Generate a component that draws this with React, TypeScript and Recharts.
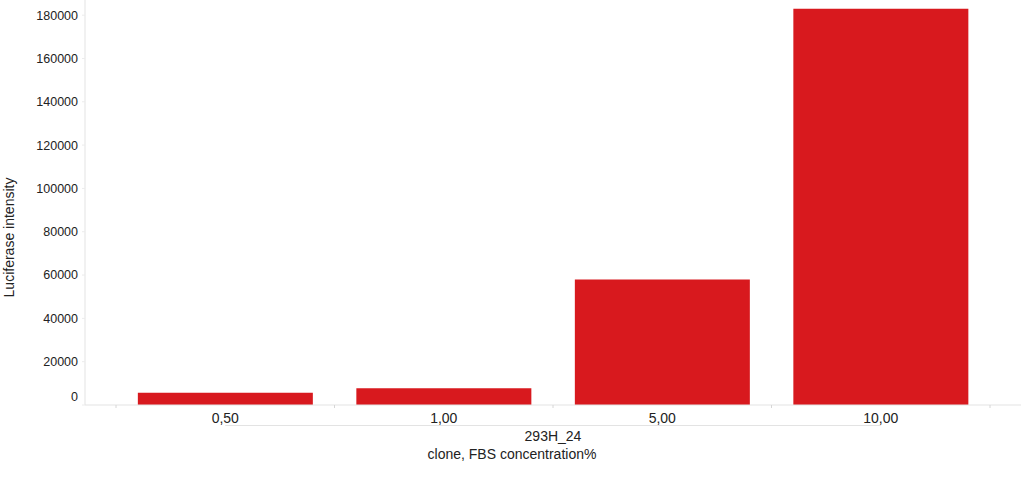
import React from "react";
import { BarChart, Bar, XAxis, YAxis, Label } from "recharts";

// FBS concentration (%) per well, clone 293H_24
const concentrations = ["0,50", "1,00", "5,00", "10,00"];
const luciferase = [5700, 7700, 58000, 183000];
const yTicks = [0, 20000, 40000, 60000, 80000, 100000, 120000, 140000, 160000, 180000];
const cloneName = "293H_24";
const xTitle = "clone, FBS concentration%";
const yTitle = "Luciferase intensity";

const data = concentrations.map((c, i) => ({ conc: c, value: luciferase[i] }));

const FONT = "'Liberation Sans', Arial, sans-serif";
const AXIS_GRAY = "#e3e3e3";
const X_PAD = 31;

const YTick = (props: any) => {
  const { x, y, payload } = props;
  // the zero label sits a bit above the baseline in the original
  const shift = payload.value === 0 ? -8 : 0;
  return (
    <text x={x} y={y + shift} dy="0.355em" textAnchor="end" fontSize={12.5} fill="#222" fontFamily={FONT}>
      {payload.value}
    </text>
  );
};

const CatTick = (props: any) => {
  const { x, y, payload } = props;
  return (
    <text x={x} y={y} dy={16} textAnchor="middle" fontSize={14} fill="#222" fontFamily={FONT}>
      {payload.value}
    </text>
  );
};

// group header under the category labels: bracket line from first to last
// category centre, small ticks at the band edges, and the clone name
const GroupHeader = (p: any) => {
  const vb = p.viewBox;
  const n = concentrations.length;
  const x0 = vb.x + X_PAD;
  const band = (vb.width - 2 * X_PAD) / n;
  const edges = Array.from({ length: n + 1 }, (_, i) => x0 + i * band);
  return (
    <g>
      {edges.map((ex, i) => (
        <line key={i} x1={ex} x2={ex} y1={vb.y} y2={vb.y + 3} stroke="#d6d6d6" />
      ))}
      <line
        x1={x0 + band / 2}
        x2={x0 + band * (n - 0.5)}
        y1={vb.y + 20.5}
        y2={vb.y + 20.5}
        stroke={AXIS_GRAY}
      />
      <text
        x={vb.x + vb.width / 2}
        y={vb.y + 36}
        textAnchor="middle"
        fontSize={14}
        fill="#222"
        fontFamily={FONT}
      >
        {cloneName}
      </text>
    </g>
  );
};

export default function App() {
  return (
    <div style={{ position: "absolute", left: 0, top: 0, width: 1024, height: 491, background: "#fff", fontFamily: FONT }}>
      <BarChart
        width={1024}
        height={491}
        data={data}
        margin={{ top: 0, right: 3, left: 0, bottom: 0 }}
        barCategoryGap="10%"
      >
        <XAxis
          dataKey="conc"
          padding={{ left: X_PAD, right: X_PAD }}
          height={86}
          axisLine={{ stroke: AXIS_GRAY }}
          tickLine={false}
          tickSize={0}
          tick={<CatTick />}
          interval={0}
        >
          <Label content={GroupHeader} />
        </XAxis>
        <YAxis
          width={85}
          domain={[0, 187000]}
          ticks={yTicks}
          allowDataOverflow
          axisLine={{ stroke: AXIS_GRAY }}
          tickLine={{ stroke: "#ececec" }}
          tickSize={3}
          tickMargin={4}
          tick={<YTick />}
        >
          <Label
            content={(p: any) => {
              const vb = p.viewBox;
              const cx = vb.x + 14;
              const cy = vb.y + vb.height / 2 + 35;
              return (
                <text
                  x={cx}
                  y={cy}
                  transform={`rotate(-90, ${cx}, ${cy})`}
                  textAnchor="middle"
                  fontSize={14}
                  fill="#222"
                  fontFamily={FONT}
                >
                  {yTitle}
                </text>
              );
            }}
          />
        </YAxis>
        <Bar dataKey="value" fill="#d8191e" isAnimationActive={false} />
      </BarChart>
      <div
        style={{
          position: "absolute",
          left: 0,
          width: 1024,
          top: 446,
          textAlign: "center",
          fontSize: 14,
          color: "#222",
          lineHeight: "16px",
        }}
      >
        {xTitle}
      </div>
    </div>
  );
}
